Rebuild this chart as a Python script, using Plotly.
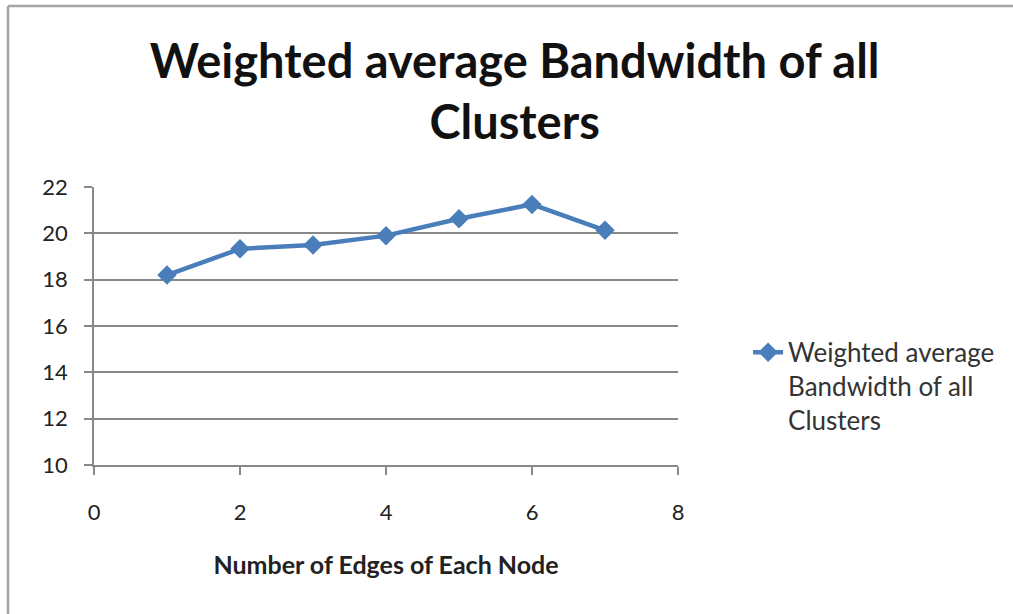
import plotly.graph_objects as go

# Number of edges per node vs. weighted average bandwidth
edges = [1, 2, 3, 4, 5, 6, 7]
bandwidth = [18.2, 19.33, 19.5, 19.9, 20.63, 21.25, 20.13]

series_name = "Weighted average<br>Bandwidth of all<br>Clusters"
chart_title = "Weighted average Bandwidth of all<br>Clusters"
x_title = "Number of Edges of Each Node"

x_ticks = [0, 2, 4, 6, 8]
y_ticks = [10, 12, 14, 16, 18, 20, 22]

BLUE = "#4a7ebb"
GRID = "#888888"
FONT = "Lato"

fig = go.Figure()
fig.add_trace(go.Scatter(
    x=edges, y=bandwidth, name=series_name, mode="lines+markers",
    line=dict(color=BLUE, width=4.5),
    marker=dict(symbol="diamond", size=15, color=BLUE),
))

fig.update_layout(
    width=1013, height=614,
    margin=dict(l=94, r=335, t=187, b=149),
    paper_bgcolor="white", plot_bgcolor="white",
    font=dict(family=FONT, color="#222222"),
    title=dict(text=chart_title, x=0.508, xanchor="center",
               y=1 - 78 / 614, yanchor="top", yref="container",
               font=dict(family=FONT, size=47, color="#111111", weight="bold")),
    showlegend=True,
    legend=dict(x=1.12, xanchor="left", y=0.49, yanchor="top",
                valign="top", font=dict(size=26, color="#333333"),
                bgcolor="rgba(0,0,0,0)"),
    xaxis=dict(range=[0, 8], tickvals=x_ticks, showgrid=False,
               showline=True, linecolor=GRID, linewidth=1.5,
               ticks="outside", ticklen=8, tickcolor=GRID, tickwidth=1.5,
               ticklabelstandoff=19, tickfont=dict(size=22),
               zeroline=False,
               title=dict(text=x_title, standoff=32,
                          font=dict(size=25, weight="bold", color="#222222"))),
    yaxis=dict(range=[10, 22], tickvals=y_ticks, showgrid=True,
               gridcolor=GRID, gridwidth=1.5,
               showline=True, linecolor=GRID, linewidth=1.5,
               ticks="outside", ticklen=8, tickcolor=GRID, tickwidth=1.5,
               ticklabelstandoff=12, tickfont=dict(size=22), zeroline=False),
)

# Chart frame (top and left edges)
frame = dict(type="line", xref="paper", yref="paper", line=dict(color="#a6a6a6", width=2.5))
x0 = (8 - 94) / 584
y0 = 1 + (187 - 6) / 278
fig.add_shape(**frame, x0=x0, x1=(1013 - 94) / 584 + 0.01, y0=y0, y1=y0)
fig.add_shape(**frame, x0=x0, x1=x0, y0=y0, y1=-(614 - 465) / 278 - 0.01)

fig.write_html("out.html")
